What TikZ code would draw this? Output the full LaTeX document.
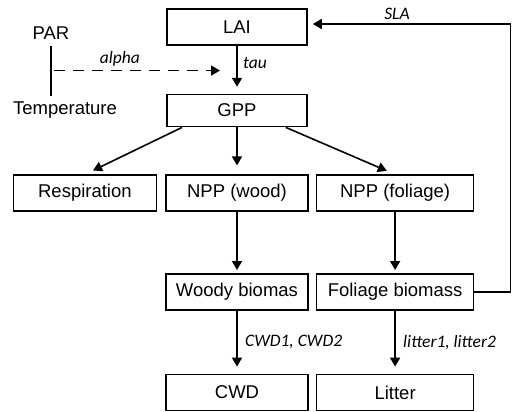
\documentclass[tikz,border=0pt]{standalone}
\usepackage{fontspec}
\setmainfont{Liberation Sans}
\newfontfamily\paramfont{Carlito}
\usetikzlibrary{
  arrows.meta, % for Triangle arrow tip
  positioning, % for relative positioning of the boxes
}
\tikzset{
  box/.style={ % style for each pool box
    rectangle,draw,line width=1.6pt, % drawn as a thick rectangle
    inner sep=0pt, % no padding, the size is set by hand
    minimum height=36pt, % same height for every box
    font=\fontsize{18.5}{22}\selectfont,
  },
  driver/.style={ % style for the climate drivers
    inner sep=6pt,
    font=\fontsize{18.5}{22}\selectfont,
  },
  conn/.style={ % style for the connections
    -{Triangle[length=9pt,width=10pt]}, % filled triangle tip
    line width=1.6pt, % same weight as the boxes
    shorten >=7pt, % stop short of the next box
  },
  param/.style={ % style for the parameter labels
    font=\paramfont\itshape\fontsize{17.5}{20}\selectfont,
  },
}
\begin{document}
\begin{tikzpicture}[x=1pt,y=1pt]
\useasboundingbox (0,0) rectangle (517,-412);
\node[box, minimum width=140pt] (lai) at (237,-27) {LAI};
\node[box, minimum width=140pt, minimum height=32pt, below=48pt of lai] (gpp) {GPP};
\node[box, minimum width=142pt, below=47pt of gpp] (nppw) {NPP (wood)};
\node[box, minimum width=143pt, left=8pt of nppw] (resp) {Respiration};
\node[box, minimum width=157pt, right=7pt of nppw] (nppf) {NPP (foliage)};
\node[box, minimum width=142pt, below=61pt of nppw] (woody) {Woody biomas};
\node[box, minimum width=157pt, right=7pt of woody] (foliage) {Foliage biomass};
\node[box, minimum width=142pt, below=63pt of woody] (cwd) {CWD};
\node[box, minimum width=157pt, right=7pt of cwd] (litter) {Litter};
\node[driver] (par) at (51,-33) {PAR};
\node[driver] (temp) at (65,-110) {Temperature};
\draw[line width=1.6pt] (par.south) -- (par.south |- temp.north) coordinate[midway] (clim);
\draw[conn, dashed, dash pattern=on 11pt off 8pt, shorten <=3pt, shorten >=17pt] (clim) -- (clim -| lai.south) node[param, above, pos=0.37] {alpha};
\draw[conn] (lai) -- (gpp) node[param, right=2pt, pos=0.35] {tau};
\draw[conn, shorten >=9pt] (gpp.-163) -- (resp.north);
\draw[conn, shorten >=9pt] (gpp) -- (nppw);
\draw[conn, shorten >=9pt] (gpp.-19) -- (nppf.north);
\draw[conn, shorten >=3pt] (nppw) -- (woody);
\draw[conn, shorten >=3pt] (nppf) -- (foliage);
\draw[conn] (woody) -- (cwd) node[param, right=4pt, midway] {CWD1, CWD2};
\draw[conn] (foliage) -- (litter) node[param, right=4pt, midway] {litter1, litter2};
\draw[conn, shorten >=5pt] (foliage.east) -- ++(36,0) |- ([yshift=3pt]lai.east) node[param, above, pos=0.78] {SLA};
\end{tikzpicture}
\end{document}
